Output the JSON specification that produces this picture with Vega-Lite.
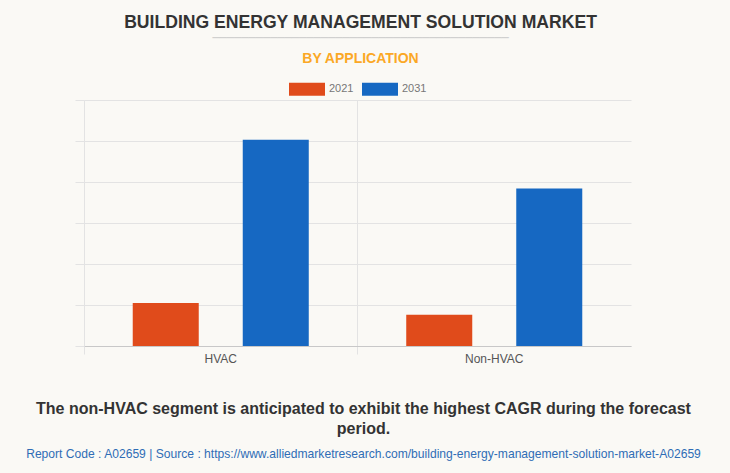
{
  "$schema": "https://vega.github.io/schema/vega-lite/v6.json",
  "background": "#faf9f5",
  "padding": {"left": 22, "top": 13, "right": 28, "bottom": 14},
  "title": {
    "text": "BUILDING ENERGY MANAGEMENT SOLUTION MARKET",
    "font": "Liberation Sans",
    "fontSize": 17.6,
    "fontWeight": "bold",
    "color": "#333333",
    "anchor": "middle",
    "dx": -3,
    "offset": 0
  },
  "resolve": {"scale": {"color": "independent"}, "legend": {"color": "independent"}},
  "vconcat": [
    {
      "title": {
        "text": "─────────────────────────────────────────",
        "font": "DejaVu Sans",
        "fontSize": 12,
        "fontWeight": "normal",
        "color": "#cccccc",
        "subtitle": "BY APPLICATION",
        "subtitleFont": "Liberation Sans",
        "subtitleFontSize": 14,
        "subtitleFontWeight": "bold",
        "subtitleColor": "#fba825",
        "subtitlePadding": 7,
        "anchor": "middle",
        "dx": -3,
        "offset": 4.5
      },
      "resolve": {"scale": {"color": "independent"}, "legend": {"color": "independent"}},
      "vconcat": [
        {
          "width": 547,
          "height": 246,
          "title": {
            "text": ["The non-HVAC segment is anticipated to exhibit the highest CAGR during the forecast", "period."],
            "orient": "bottom",
            "font": "Liberation Sans",
            "fontSize": 16,
            "fontWeight": "bold",
            "color": "#333333",
            "lineHeight": 20,
            "subtitle": "Report Code : A02659  |  Source : https://www.alliedmarketresearch.com/building-energy-management-solution-market-A02659",
            "subtitleFont": "Liberation Sans",
            "subtitleFontSize": 12.1,
            "subtitleColor": "#2f6db5",
            "subtitlePadding": 11,
            "anchor": "middle",
            "dx": 6,
            "offset": 37
          },
          "data": {
            "values": [
              {"application": "HVAC", "year": "2021", "value": 1.05},
              {"application": "HVAC", "year": "2031", "value": 5.03},
              {"application": "Non-HVAC", "year": "2021", "value": 0.76},
              {"application": "Non-HVAC", "year": "2031", "value": 3.84}
            ]
          },
          "mark": {"type": "bar"},
          "encoding": {
            "x": {
              "field": "application",
              "type": "nominal",
              "sort": ["HVAC", "Non-HVAC"],
              "scale": {"paddingInner": 0, "paddingOuter": 0},
              "axis": {
                "title": null,
                "labelAngle": 0,
                "labelFont": "Liberation Sans",
                "labelFontSize": 12,
                "labelColor": "#555555",
                "labelPadding": -1,
                "bandPosition": 0,
                "grid": true,
                "gridColor": "#e3e3e3",
                "ticks": true,
                "tickSize": 8,
                "tickColor": "#e3e3e3",
                "domain": true,
                "domainColor": "#c8c8c8"
              }
            },
            "xOffset": {
              "field": "year",
              "type": "nominal",
              "scale": {"paddingInner": 0.4, "paddingOuter": 0.443}
            },
            "y": {
              "field": "value",
              "type": "quantitative",
              "scale": {"domain": [0, 6], "nice": false},
              "axis": {
                "title": null,
                "labels": false,
                "values": [0, 1, 2, 3, 4, 5, 6],
                "ticks": true,
                "tickSize": 9,
                "tickColor": "#e3e3e3",
                "grid": true,
                "gridColor": "#e3e3e3",
                "domain": false
              }
            },
            "color": {
              "field": "year",
              "type": "nominal",
              "scale": {"domain": ["2021", "2031"], "range": ["#e04b1b", "#1668c2"]},
              "legend": {
                "title": null,
                "orient": "top",
                "direction": "horizontal",
                "symbolType": "M-1,-0.36H1V0.36H-1Z",
                "symbolSize": 1296,
                "symbolStrokeWidth": 0,
                "symbolOpacity": 1,
                "labelFont": "Liberation Sans",
                "labelFontSize": 11,
                "labelColor": "#777777",
                "labelOffset": 4,
                "columnPadding": 8,
                "offset": 4.5
              }
            }
          }
        }
      ]
    }
  ],
  "config": {
    "view": {"stroke": null},
    "legend": {"layout": {"top": {"anchor": "middle"}}}
  }
}
